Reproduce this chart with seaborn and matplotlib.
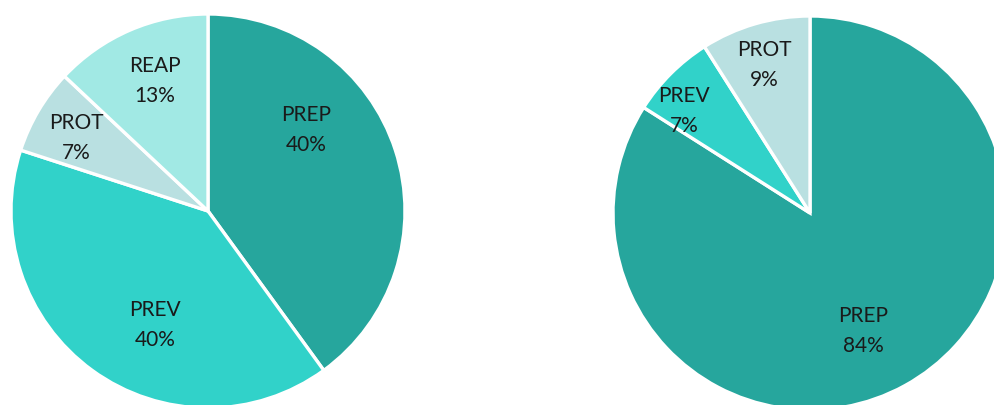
import matplotlib
matplotlib.use("Agg")
import matplotlib.pyplot as plt
import seaborn as sns
import numpy as np

# ---- data ----
left_labels = ["PREP", "PREV", "PROT", "REAP"]
left_values = [40, 40, 7, 13]
right_labels = ["PREP", "PREV", "PROT"]
right_values = [84, 7, 9]

# ---- styles ----
color_map = {"PREP": "#26A69D", "PREV": "#31D2C9", "PROT": "#B9E0E1", "REAP": "#A1E9E4"}
# label placement (fraction of radius), mimicking the original layout
left_label_pos = [(0.50, 0.41), (-0.27, -0.58), (-0.67, 0.37), (-0.27, 0.66)]
right_label_pos = [(0.27, -0.60), (-0.64, 0.52), (-0.23, 0.75)]

sns.set_theme(style="white")
plt.rcParams["font.family"] = ["Lato", "DejaVu Sans"]

W, H = 994, 405
fig = plt.figure(figsize=(W / 100, H / 100), dpi=100)
fig.patch.set_facecolor("white")

R = 197  # radius in px


def draw_pie(cx, cy, labels, values, label_pos):
    # cx, cy: pie centre in px (from top-left)
    ax = fig.add_axes([(cx - R) / W, (H - cy - R) / H, 2 * R / W, 2 * R / H])
    colors = [color_map[l] for l in labels]
    wedges, _ = ax.pie(values, colors=colors, startangle=90, counterclock=False,
                       radius=1.0,
                       wedgeprops=dict(edgecolor="white", linewidth=2.4))
    for lab, val, (px, py) in zip(labels, values, label_pos):
        ax.text(px, py, f"{lab}\n{val}%", ha="center", va="center",
                fontsize=15, color="#1a1a1a", linespacing=1.62)
    ax.set_xlim(-1, 1)
    ax.set_ylim(-1, 1)
    ax.set_aspect("equal")
    ax.axis("off")
    return ax


draw_pie(208, 211, left_labels, left_values, left_label_pos)
draw_pie(810, 213, right_labels, right_values, right_label_pos)

fig.savefig("out.png", dpi=100, facecolor="white")
